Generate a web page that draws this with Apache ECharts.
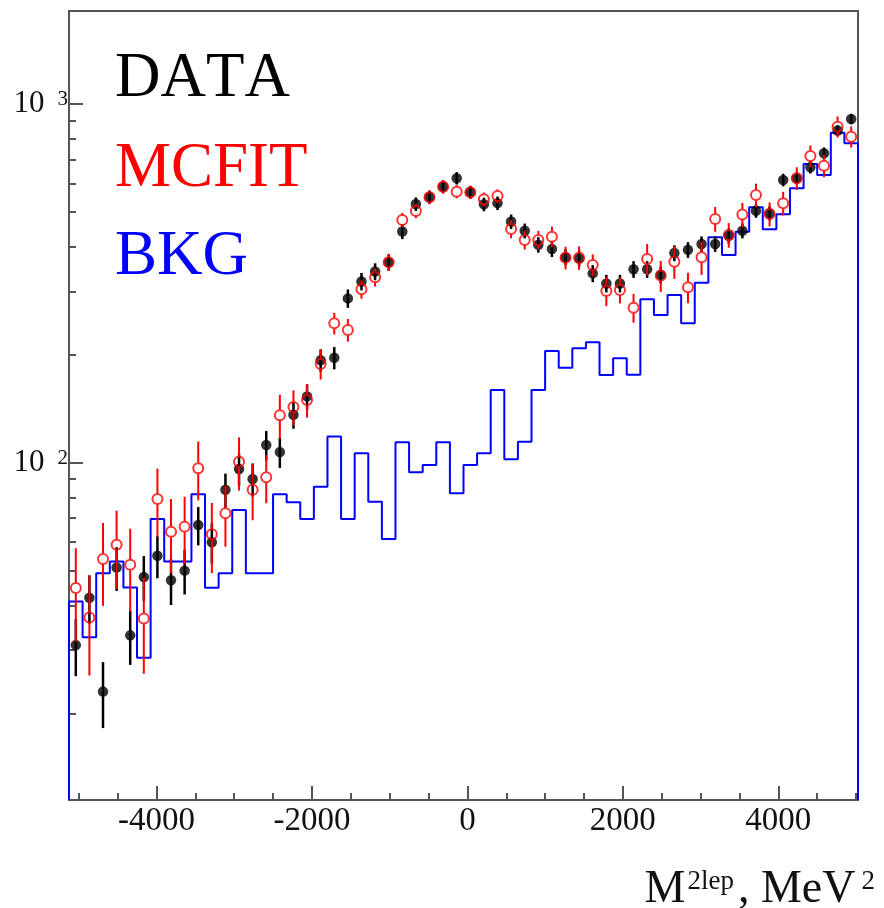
<!DOCTYPE html>
<html>
<head>
<meta charset="utf-8">
<script src="https://cdn.jsdelivr.net/npm/echarts@6/dist/echarts.min.js"></script>
<style>
  html, body { margin: 0; padding: 0; background: #fff; }
  #chart { width: 884px; height: 908px; }
</style>
</head>
<body>
<div id="chart"></div>
<script>
// Binning of the M²lep histogram (MeV²)
const binLow = -5125;
const binWidth = 175;

// Measured counts per bin with their uncertainties
const dataCounts = [31, 42, 23, 51, 33, 48, 55, 47, 50, 67,
  60, 84, 96, 90, 112, 107, 136, 153, 193, 196,
  287, 320, 341, 362, 441, 526, 550, 588, 621, 567,
  525, 529, 470, 443, 405, 394, 374, 371, 337, 316,
  316, 346, 346, 334, 384, 392, 407, 407, 429, 443,
  504, 496, 614, 621, 666, 729, 843, 908];
const dataErrors = [5.6, 6.5, 4.8, 7.1, 5.7, 6.9, 7.4, 6.9, 7.1, 8.2,
  7.7, 9.2, 9.8, 9.5, 10.6, 10.3, 11.7, 12.4, 13.9, 14,
  16.9, 17.9, 18.5, 19, 21, 22.9, 23.5, 24.2, 24.9, 23.8,
  22.9, 23, 21.7, 21, 20.1, 19.8, 19.3, 19.3, 18.4, 17.8,
  17.8, 18.6, 18.6, 18.3, 19.6, 19.8, 20.2, 20.2, 20.7, 21,
  22.4, 22.3, 24.8, 24.9, 25.8, 27, 29, 30.1];

// Fitted Monte Carlo prediction
const mcfitCounts = [44.7, 37.0, 53.9, 59.0, 51.9, 36.8, 79.2, 64.2, 66.3, 96.5,
  63.2, 72.3, 100.6, 84.1, 91.1, 135.6, 143.0, 149.5, 188.5, 244.7,
  234.4, 304.4, 328.8, 362.0, 474.9, 503.2, 549.5, 588.0, 569.5, 567.3,
  542.3, 553.9, 448.2, 417.8, 417.8, 426.6, 372.8, 372.8, 355.8, 301.1,
  303.0, 270.4, 369.8, 332.2, 363.4, 308.3, 373.8, 478.0, 431.3, 491.9,
  557.5, 493.5, 528.7, 620.7, 716.1, 673.0, 864.5, 810.6];
const mcfitErrors = [13, 11.5, 14, 14.5, 13.5, 11, 17, 15, 14, 18,
  14, 14, 17, 15, 14, 19, 16, 16, 18, 17,
  17, 18, 19, 20, 22, 23, 24, 25, 24, 24,
  24, 24, 26, 25, 25, 28, 27, 28, 25, 28,
  25, 25, 37, 33, 38, 30, 40, 38, 34, 38,
  42, 38, 40, 45, 50, 48, 58, 55];

// Background estimate (drawn as a step histogram)
const bkgCounts = [41.0, 32.6, 49.2, 53.0, 44.9, 28.6, 69.7, 53.0, 53.0, 81.6,
  44.8, 49.2, 73.8, 49.2, 49.2, 81.6, 77.5, 69.6, 85.7, 118.2,
  69.6, 106.2, 77.8, 61.3, 114.0, 94.0, 98.5, 114.0, 82.2, 98.5,
  106.2, 159.5, 102.2, 114.4, 159.5, 204.8, 184.0, 208.4, 216.6, 175.6,
  195.4, 175.8, 285.5, 258.1, 293.5, 244.7, 317.6, 425.0, 379.4, 440.6,
  515.2, 447.3, 492.6, 582.1, 680.4, 634.0, 831.8, 777.0];

// Axes
const xRange = [-5125, 5025];
const yRange = [11.47, 1816];
const xTickValues = [-4000, -2000, 0, 2000, 4000];
const xMinorTickValues = [-5000, -4500, -3500, -3000, -2500, -1500, -1000, -500,
  500, 1000, 1500, 2500, 3000, 3500, 4500, 5000];
const yTickValues = [100, 1000];
const yTickLabels = [['10', '2'], ['10', '3']];
const yMinorTickValues = [20, 30, 40, 50, 60, 70, 80, 90, 200, 300, 400, 500, 600, 700, 800, 900];

const legendLabels = ['DATA', 'MCFIT', 'BKG'];
const axisTitle = { base: 'M', sup: '2lep', unit: ', MeV', unitSup: '2' };

const serif = "'Liberation Serif', 'Times New Roman', serif";
const axisGray = '#555';
const RED = '#ff0000', BLUE = '#0000ff', BLACK = '#000000';

const nBins = dataCounts.length;
const centers = dataCounts.map((_, i) => binLow + binWidth * (i + 0.5));

const dataPoints = dataCounts.map((v, i) => [centers[i], v]);
const dataBars = dataCounts.map((v, i) => [centers[i], v - dataErrors[i], v + dataErrors[i], v]);
const mcPoints = mcfitCounts.map((v, i) => [centers[i], v]);
const mcBars = mcfitCounts.map((v, i) => [centers[i], v - mcfitErrors[i], v + mcfitErrors[i], v]);

// Step outline of the background histogram, closed down to the frame at both ends
const bkgPath = [[binLow, yRange[0]]];
bkgCounts.forEach((v, i) => {
  const a = binLow + binWidth * i;
  bkgPath.push([a, v], [a + binWidth, v]);
});
bkgPath.push([binLow + binWidth * nBins, yRange[0]]);

// Vertical error bar; the segment inside the marker (gap px) is left out
function errorBarRenderer(color, width, gap) {
  return function (params, api) {
    const x = api.value(0);
    const top = api.coord([x, api.value(2)]);
    const mid = api.coord([x, api.value(3)]);
    const bot = api.coord([x, api.value(1)]);
    const children = [];
    const style = { stroke: color, lineWidth: width };
    if (mid[1] - gap > top[1]) {
      children.push({ type: 'line', shape: { x1: top[0], y1: top[1], x2: mid[0], y2: mid[1] - gap }, style });
    }
    if (bot[1] > mid[1] + gap) {
      children.push({ type: 'line', shape: { x1: mid[0], y1: mid[1] + gap, x2: bot[0], y2: bot[1] }, style });
    }
    return { type: 'group', children };
  };
}

function findTick(v) {
  return yTickValues.findIndex(t => Math.abs(t - v) / t < 1e-6);
}

const chart = echarts.init(document.getElementById('chart'), null, { renderer: 'canvas' });

const option = {
  animation: false,
  backgroundColor: '#ffffff',
  grid: {
    left: 69, right: 26, top: 11, bottom: 108,
    show: true, borderColor: axisGray, borderWidth: 2,
    containLabel: false, outerBoundsMode: 'none'
  },
  xAxis: [
    {
      type: 'value', min: xRange[0], max: xRange[1],
      axisLine: { show: false, onZero: false }, splitLine: { show: false },
      axisTick: { inside: true, length: 14, customValues: xTickValues, lineStyle: { color: axisGray, width: 2 } },
      axisLabel: {
        customValues: xTickValues, margin: 5, fontFamily: serif, fontSize: 33, color: '#111',
        formatter: v => String(v)
      }
    },
    {
      type: 'value', min: xRange[0], max: xRange[1], position: 'bottom',
      axisLine: { show: false, onZero: false }, splitLine: { show: false }, axisLabel: { show: false },
      axisTick: { inside: true, length: 7, customValues: xMinorTickValues, lineStyle: { color: axisGray, width: 2 } }
    }
  ],
  yAxis: [
    {
      type: 'log', logBase: 10, min: yRange[0], max: yRange[1], position: 'left',
      axisLine: { show: false, onZero: false }, splitLine: { show: false },
      axisTick: { inside: true, length: 14, customValues: yTickValues, lineStyle: { color: axisGray, width: 2 } },
      axisLabel: {
        customValues: yTickValues, margin: 1,
        formatter: function (v) {
          const k = findTick(v);
          if (k < 0) return '';
          return '{b|' + yTickLabels[k][0] + '}{s|' + yTickLabels[k][1] + '}';
        },
        rich: {
          b: { fontFamily: serif, fontSize: 31, lineHeight: 30, color: '#111' },
          s: { fontFamily: serif, fontSize: 21, lineHeight: 10, verticalAlign: 'top', padding: [0, 0, 0, 13], color: '#111' }
        }
      }
    },
    {
      type: 'log', logBase: 10, min: yRange[0], max: yRange[1], position: 'left',
      axisLine: { show: false, onZero: false }, splitLine: { show: false }, axisLabel: { show: false },
      axisTick: { inside: true, length: 7, customValues: yMinorTickValues, lineStyle: { color: axisGray, width: 2 } }
    }
  ],
  series: [
    {
      name: legendLabels[2], type: 'line', data: bkgPath, showSymbol: false, symbol: 'none',
      lineStyle: { color: BLUE, width: 2 }, clip: true, z: 2
    },
    {
      type: 'custom', data: dataBars, renderItem: errorBarRenderer(BLACK, 2.5, 0),
      encode: { x: 0, y: [1, 2] }, clip: true, z: 3
    },
    {
      name: legendLabels[0], type: 'scatter', data: dataPoints, symbol: 'circle', symbolSize: 10.5,
      itemStyle: { color: BLACK }, z: 4
    },
    {
      type: 'custom', data: mcBars, renderItem: errorBarRenderer(RED, 2, 5.5),
      encode: { x: 0, y: [1, 2] }, clip: true, z: 5
    },
    {
      name: legendLabels[1], type: 'scatter', data: mcPoints, symbol: 'circle', symbolSize: 10,
      itemStyle: { color: 'rgba(0,0,0,0)', borderColor: RED, borderWidth: 2 }, z: 6
    }
  ],
  graphic: [
    { type: 'text', x: 115, y: 79, style: { text: legendLabels[0], font: '63px ' + serif, fill: BLACK, align: 'left', verticalAlign: 'middle' } },
    { type: 'text', x: 115, y: 169, style: { text: legendLabels[1], font: '63px ' + serif, fill: RED, align: 'left', verticalAlign: 'middle' } },
    { type: 'text', x: 115, y: 257, style: { text: legendLabels[2], font: '63px ' + serif, fill: BLUE, align: 'left', verticalAlign: 'middle' } },
    {
      type: 'text', x: 875, y: 890,
      style: {
        text: '{b|' + axisTitle.base + '}{s|' + axisTitle.sup + '}{b|' + axisTitle.unit + '}{t|' + axisTitle.unitSup + '}',
        align: 'right', verticalAlign: 'middle',
        rich: {
          b: { fontFamily: serif, fontSize: 46, lineHeight: 44, fill: '#111' },
          s: { fontFamily: serif, fontSize: 27, lineHeight: 4, verticalAlign: 'top', padding: [0, 4, 0, 2], fill: '#111' },
          t: { fontFamily: serif, fontSize: 27, lineHeight: 1, verticalAlign: 'top', padding: [0, 0, 0, 6], fill: '#111' }
        }
      }
    }
  ]
};

chart.setOption(option);

// Plain (unkerned) glyph spacing, then repaint with it
document.querySelectorAll('#chart canvas').forEach(c => {
  const ctx = c.getContext('2d');
  if (ctx && 'fontKerning' in ctx) ctx.fontKerning = 'none';
});
chart.setOption(option, { notMerge: true });
</script>
</body>
</html>
